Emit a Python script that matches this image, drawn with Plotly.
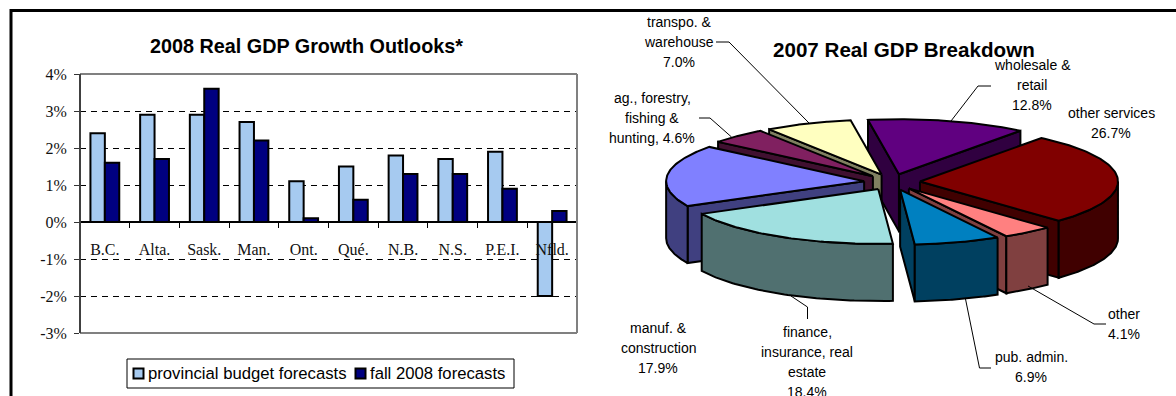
import math
import plotly.graph_objects as go

W, H = 1176, 396

# Provincial growth outlooks, percent
provinces = ["B.C.", "Alta.", "Sask.", "Man.", "Ont.", "Qué.", "N.B.", "N.S.", "P.E.I.", "Nfld."]
budget_forecasts = [2.4, 2.9, 2.9, 2.7, 1.1, 1.5, 1.8, 1.7, 1.9, -2.0]
fall_forecasts = [1.6, 1.7, 3.6, 2.2, 0.1, 0.6, 1.3, 1.3, 0.9, 0.3]
growth_ticks = [-3, -2, -1, 0, 1, 2, 3, 4]
growth_tick_labels = ["-3%", "-2%", "-1%", "0%", "1%", "2%", "3%", "4%"]

# GDP shares in clockwise order, percent
sectors = ["wholesale", "services", "other", "admin", "finance", "manuf", "ag", "transpo"]
shares = [12.8, 26.7, 4.1, 6.9, 18.4, 17.9, 4.6, 7.0]
top_colors = ["#600080", "#800000", "#FF8080", "#0080C0", "#A0E0E0", "#8080FF", "#802060", "#FFFFC0"]
side_colors = ["#300040", "#400000", "#804040", "#004060", "#507070", "#404080", "#401030", "#808060"]
paint_order = ["wholesale", "transpo", "ag", "services", "manuf", "other", "admin", "finance"]

# Pie projection, in pixels of the overlay axes
CX, CY, RX, RY, DEPTH, EXPLODE_X, EXPLODE_Y, START_DEG = 892, 182, 198, 55, 57, 28, 8, -9

fig = go.Figure()
fig.add_bar(x=provinces, y=budget_forecasts, marker=dict(color="#A6CAF0", line=dict(color="black", width=2)), showlegend=False)
fig.add_bar(x=provinces, y=fall_forecasts, marker=dict(color="#000080", line=dict(color="black", width=2)), showlegend=False)


def polygon(pts, color):
    xs, ys = zip(*pts)
    fig.add_trace(go.Scatter(
        x=list(xs) + [xs[0]], y=list(ys) + [ys[0]], mode="lines", fill="toself", fillcolor=color,
        line=dict(color="black", width=2), xaxis="x2", yaxis="y2", hoverinfo="skip", showlegend=False,
    ))


def leader(pts):
    xs, ys = zip(*pts)
    fig.add_trace(go.Scatter(
        x=xs, y=ys, mode="lines", line=dict(color="black", width=1),
        xaxis="x2", yaxis="y2", hoverinfo="skip", showlegend=False,
    ))


# Slice spans follow from the shares
total = sum(shares)
spans = {}
angle = START_DEG
for name, share, top, side in zip(sectors, shares, top_colors, side_colors):
    sweep = share / total * 360
    spans[name] = (angle, angle + sweep, top, side)
    angle += sweep


def draw_slice(a0, a1, top, side):
    mid = math.radians((a0 + a1) / 2)
    tx = CX + EXPLODE_X * math.sin(mid)
    ty = CY - EXPLODE_Y * math.cos(mid)

    def rim(a):
        r = math.radians(a)
        return tx + RX * math.sin(r), ty - RY * math.cos(r)

    def radial_face(a):
        x, y = rim(a)
        polygon([(tx, ty), (x, y), (x, y + DEPTH), (tx, ty + DEPTH)], side)

    if math.sin(math.radians(a0)) < 0:
        radial_face(a0)
    if math.sin(math.radians(a1)) > 0:
        radial_face(a1)

    # Outer wall only where the rim faces the viewer (90..270 degrees)
    lo, hi = max(a0, 90), min(a1, 270)
    if hi > lo:
        steps = [lo + (hi - lo) * i / 60 for i in range(61)]
        upper = [rim(a) for a in steps]
        polygon(upper + [(x, y + DEPTH) for x, y in reversed(upper)], side)

    polygon([(tx, ty)] + [rim(a0 + (a1 - a0) * i / 80) for i in range(81)], top)


for name in paint_order:
    draw_slice(*spans[name])

for path in [
    [(716, 42), (729, 42), (809, 123)],
    [(699, 118), (710, 118), (731.5, 137)],
    [(991, 86), (978, 86), (951, 121)],
    [(791, 296), (807.5, 307), (807.5, 319)],
    [(965.5, 299), (979.5, 368), (991, 368)],
    [(1028, 286), (1094, 324), (1106, 324)],
]:
    leader(path)

SANS = "Liberation Sans"
SERIF = "Liberation Serif"
annotations = []


def text(x, y, s, size=14, bold=False, anchor="center"):
    annotations.append(dict(
        x=x, y=y, xref="x2", yref="y2", text=f"<b>{s}</b>" if bold else s, showarrow=False,
        xanchor=anchor, yanchor="middle", font=dict(family=SANS, size=size, color="black"),
    ))


text(306.5, 46, "2008 Real GDP Growth Outlooks*", size=19.8, bold=True)
text(903.5, 49, "2007 Real GDP Breakdown", size=20.6, bold=True)

labels = [
    (679, [22, 42, 62], ["transpo. &", "warehouse", "7.0%"]),
    (652, [98, 118, 138], ["ag., forestry,", "fishing &", "hunting, 4.6%"]),
    (1032, [65, 85, 105], ["wholesale &", "retail", "12.8%"]),
    (1111, [113, 133], ["other services", "26.7%"]),
    (658, [328, 348, 368], ["manuf. &", "construction", "17.9%"]),
    (807, [332, 352, 372, 392], ["finance,", "insurance, real", "estate", "18.4%"]),
    (1031, [357, 377], ["pub. admin.", "6.9%"]),
    (1123.5, [314, 334], ["other", "4.1%"]),
]
for x, ys, lines in labels:
    for y, line in zip(ys, lines):
        text(x, y, line)

# Legend box
text(146, 373.5, "provincial budget forecasts", size=16.7, anchor="left")
text(368, 373.5, "fall 2008 forecasts", size=16.7, anchor="left")


def px_rect(x0, y0, x1, y1, line_color="black", width=1, fill=None):
    return dict(type="rect", xref="x2", yref="y2", x0=x0, y0=y0, x1=x1, y1=y1,
                line=dict(color=line_color, width=width), fillcolor=fill, layer="above")


def px_line(x0, y0, x1, y1, line_color="black", width=1):
    return dict(type="line", xref="x2", yref="y2", x0=x0, y0=y0, x1=x1, y1=y1,
                line=dict(color=line_color, width=width), layer="above")


shapes = [
    # Plot frame: light on three sides, the value axis is drawn darker
    px_line(80, 74, 577, 74, line_color="#808080", width=2),
    px_line(577, 74, 577, 333, line_color="#808080", width=2),
    px_line(80, 333, 577, 333, line_color="#808080", width=2),
    px_line(80, 74, 80, 333, line_color="#404040", width=2),
    # Page rule along the top and left
    px_line(10, 10.5, W, 10.5, width=3),
    px_line(11, 9, 11, H, width=3),
    # Legend
    px_rect(127, 359, 514, 388, width=1),
    px_rect(133.5, 368.5, 143.5, 378.5, width=2, fill="#A6CAF0"),
    px_rect(355.5, 368.5, 365.5, 378.5, width=2, fill="#000080"),
]

fig.update_layout(
    width=W, height=H, autosize=False, margin=dict(l=0, r=0, t=0, b=0, autoexpand=False),
    paper_bgcolor="white", plot_bgcolor="rgba(0,0,0,0)",
    barmode="group", bargap=0.42, bargroupgap=0,
    annotations=annotations, shapes=shapes,
    xaxis=dict(
        domain=[80 / W, 577 / W], range=[-0.5, 9.5], anchor="free", position=1 - 222 / H,
        showline=True, linecolor="black", linewidth=1.5, ticks="outside", ticklen=5, tickcolor="black",
        tickson="boundaries", showgrid=False, zeroline=False, ticklabelstandoff=13,
        tickfont=dict(family=SERIF, size=16, color="#111"), tickangle=0,
    ),
    yaxis=dict(
        domain=[1 - 333 / H, 1 - 74 / H], range=[-3, 4], tickmode="array",
        tickvals=growth_ticks, ticktext=growth_tick_labels, anchor="x",
        showgrid=True, gridcolor="black", griddash="6px,5px", gridwidth=1, zeroline=False,
        showline=False, ticks="outside", ticklen=5, tickcolor="#333", ticklabelstandoff=4,
        tickfont=dict(family=SERIF, size=16, color="#111"),
    ),
    xaxis2=dict(domain=[0, 1], range=[0, W], visible=False, fixedrange=True, anchor="y2"),
    yaxis2=dict(domain=[0, 1], range=[H, 0], visible=False, fixedrange=True, anchor="x2"),
)

fig.write_html("out.html", config=dict(displayModeBar=False))
